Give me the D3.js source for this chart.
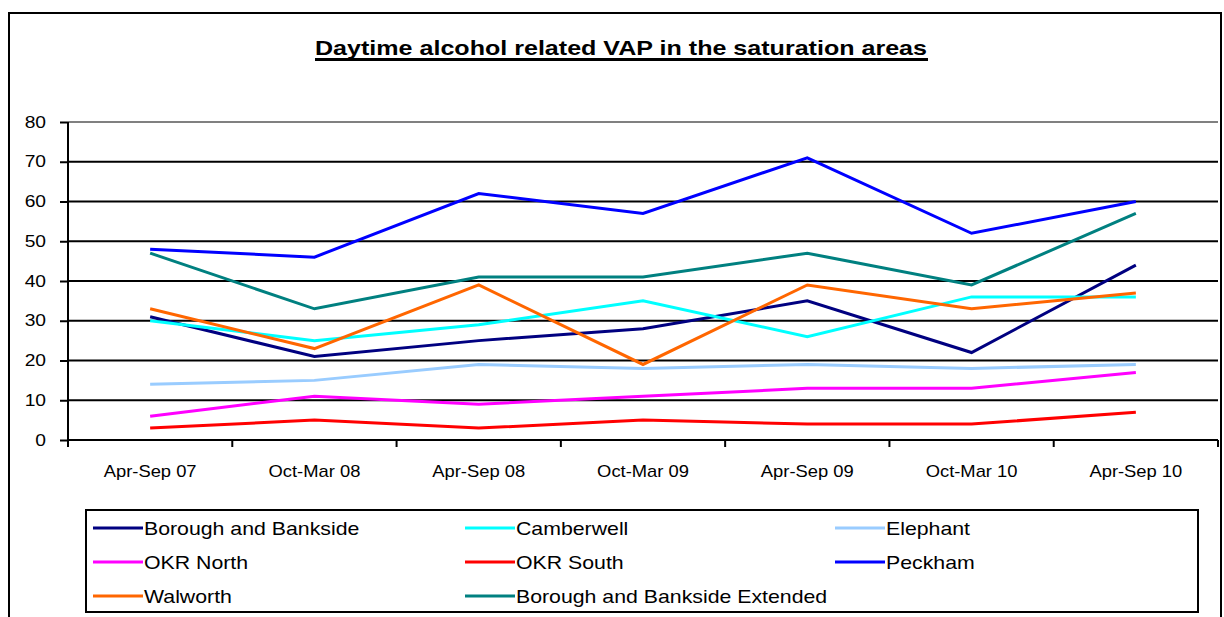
<!DOCTYPE html>
<html><head><meta charset="utf-8">
<script src="https://cdn.jsdelivr.net/npm/d3@7/dist/d3.min.js"></script>
<style>body{margin:0;background:#fff}svg{display:block}text{font-family:"Liberation Sans",Arial,sans-serif}</style>
</head><body>
<svg id="c" width="1224" height="617"></svg>
<script>
const categories = ["Apr-Sep 07","Oct-Mar 08","Apr-Sep 08","Oct-Mar 09","Apr-Sep 09","Oct-Mar 10","Apr-Sep 10"];
const yTicks = [0,10,20,30,40,50,60,70,80];
const seriesNames = ["Borough and Bankside","Camberwell","Elephant","OKR North","OKR South","Peckham","Walworth","Borough and Bankside Extended"];
const seriesColors = ["#000080","#00FFFF","#99CCFF","#FF00FF","#FF0000","#0000FF","#FF6600","#008080"];
const boroughBankside = [31,21,25,28,35,22,44];
const camberwell = [30,25,29,35,26,36,36];
const elephant = [14,15,19,18,19,18,19];
const okrNorth = [6,11,9,11,13,13,17];
const okrSouth = [3,5,3,5,4,4,7];
const peckham = [48,46,62,57,71,52,60];
const walworth = [33,23,39,19,39,33,37];
const boroughExtended = [47,33,41,41,47,39,57];
const seriesValues = [boroughBankside,camberwell,elephant,okrNorth,okrSouth,peckham,walworth,boroughExtended];

(function(){
const svg = d3.select("#c");
function stretch(sel, f){
  sel.each(function(){ const w = this.getComputedTextLength(); d3.select(this).attr("textLength", w*f).attr("lengthAdjust","spacingAndGlyphs"); });
}
svg.append("path").attr("d","M9,617 L9,13 L1221,13 L1221,617").attr("fill","none").attr("stroke","#000").attr("stroke-width",2);

svg.append("text").attr("x",621).attr("y",55).attr("text-anchor","middle")
  .attr("font-size",21).attr("font-weight","bold").attr("textLength",612).attr("lengthAdjust","spacingAndGlyphs")
  .text("Daytime alcohol related VAP in the saturation areas");
svg.append("line").attr("x1",315).attr("x2",928).attr("y1",59.5).attr("y2",59.5).attr("stroke","#000").attr("stroke-width",3);

const pl = 68, pr = 1218, pt = 122, pb = 440;
const x = d3.scaleBand().domain(categories).range([pl,pr]).paddingInner(0).paddingOuter(0);
const y = d3.scaleLinear().domain([0,80]).range([pb,pt]);

svg.append("g").selectAll("line").data(yTicks.filter(d=>d>0)).join("line")
  .attr("x1",pl).attr("x2",pr).attr("y1",d=>y(d)).attr("y2",d=>y(d))
  .attr("stroke",d=>d===80?"#808080":"#000").attr("stroke-width",2);

const ya = svg.append("g").attr("transform",`translate(${pl},0)`)
  .call(d3.axisLeft(y).tickValues(yTicks).tickSize(8).tickPadding(14).tickFormat(d3.format("d")));
ya.select(".domain").attr("stroke","#000").attr("stroke-width",2).attr("d",`M0,${pt}V${pb+4}`);
ya.selectAll(".tick line").attr("stroke","#000").attr("stroke-width",2);
ya.selectAll(".tick text").attr("font-size",16).attr("fill","#000").attr("text-anchor","end").attr("font-family","Liberation Sans, Arial, sans-serif");
stretch(ya.selectAll(".tick text"), 1.2);

const xa = svg.append("g").attr("transform",`translate(0,${pb})`)
  .call(d3.axisBottom(x).tickSize(0).tickPadding(25));
xa.select(".domain").attr("stroke","#000").attr("stroke-width",2).attr("d",`M${pl},0H${pr}`);
xa.selectAll(".tick text").attr("font-size",17).attr("fill","#000").attr("font-family","Liberation Sans, Arial, sans-serif");
stretch(xa.selectAll(".tick text"), 1.08);
svg.append("g").selectAll("line").data(d3.range(categories.length+1)).join("line")
  .attr("x1",i=>pl+i*x.step()).attr("x2",i=>pl+i*x.step()).attr("y1",pb).attr("y2",pb+7)
  .attr("stroke","#000").attr("stroke-width",2);

const line = d3.line().x((d,i)=>x(categories[i])+x.bandwidth()/2).y(d=>y(d));
svg.append("g").selectAll("path").data(seriesValues).join("path")
  .attr("d",d=>line(d)).attr("fill","none").attr("stroke",(d,i)=>seriesColors[i]).attr("stroke-width",3).attr("stroke-linejoin","miter");

svg.append("rect").attr("x",86).attr("y",510).attr("width",1112).attr("height",102).attr("fill","none").attr("stroke","#000").attr("stroke-width",2);
const colX = [93,465,835], rowY = [528,562,596];
const lg = svg.append("g").selectAll("g").data(seriesNames).join("g")
  .attr("transform",(d,i)=>`translate(${colX[i%3]},${rowY[Math.floor(i/3)]})`);
lg.append("line").attr("x1",0).attr("x2",50).attr("y1",0).attr("y2",0).attr("stroke",(d,i)=>seriesColors[i]).attr("stroke-width",3);
const lt = lg.append("text").attr("x",51).attr("y",7).attr("font-size",19).text(d=>d);
stretch(lt, 1.12);
})();
</script>
</body></html>
